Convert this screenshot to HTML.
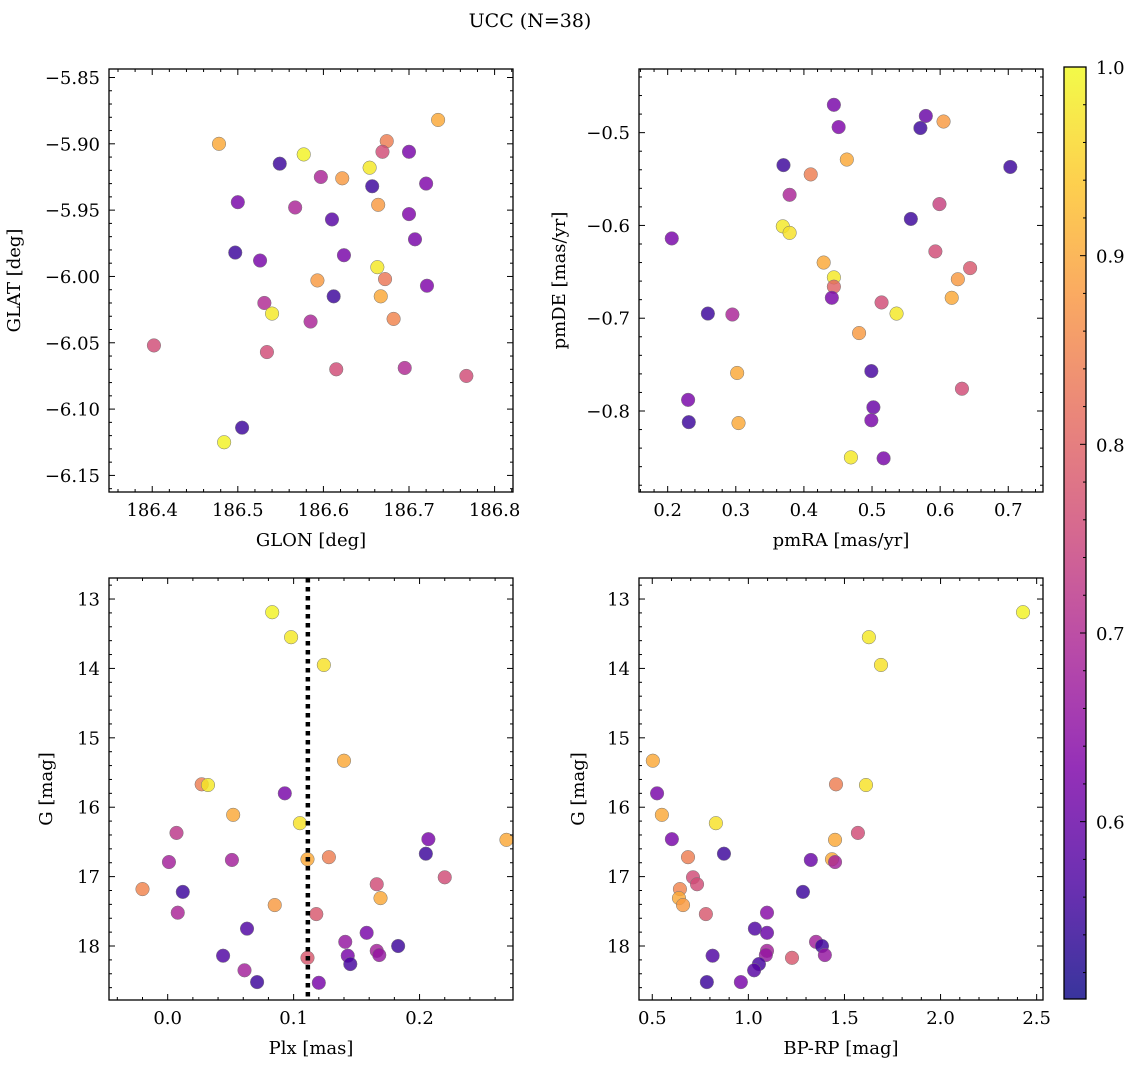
<!DOCTYPE html>
<html><head><meta charset="utf-8"><style>
body{margin:0;background:#fff;}
svg text{font-family:"DejaVu Serif","Liberation Serif",serif;fill:#000;}
</style></head><body>
<svg id="fig" xmlns="http://www.w3.org/2000/svg" width="1136" height="1067" viewBox="0 0 1136 1067">
<defs>
<linearGradient id="cbg" x1="0" y1="1" x2="0" y2="0"></linearGradient>
</defs>
<text x="530" y="27" font-size="19" text-anchor="middle">UCC (N=38)</text>
</svg>
<script>
// ---- data ----
const glon=[186.478,186.734,186.674,186.549,186.577,186.669,186.700,186.654,186.597,186.622,186.657,186.720,186.500,186.567,186.664,186.700,186.610,186.707,186.497,186.624,186.526,186.663,186.593,186.672,186.721,186.612,186.667,186.531,186.540,186.682,186.585,186.402,186.534,186.615,186.695,186.767,186.505,186.484];
const glat=[-5.900,-5.882,-5.898,-5.915,-5.908,-5.906,-5.906,-5.918,-5.925,-5.926,-5.932,-5.930,-5.944,-5.948,-5.946,-5.953,-5.957,-5.972,-5.982,-5.984,-5.988,-5.993,-6.003,-6.002,-6.007,-6.015,-6.015,-6.020,-6.028,-6.032,-6.034,-6.052,-6.057,-6.070,-6.069,-6.075,-6.114,-6.125];
const probA=[0.9,0.9,0.84,0.55,0.99,0.76,0.62,0.98,0.69,0.88,0.55,0.63,0.62,0.69,0.88,0.63,0.58,0.62,0.55,0.62,0.62,0.98,0.88,0.83,0.63,0.55,0.9,0.7,0.98,0.85,0.69,0.76,0.76,0.76,0.7,0.76,0.55,0.99];
const pmra=[0.444,0.451,0.579,0.571,0.605,0.370,0.410,0.463,0.703,0.379,0.599,0.557,0.206,0.369,0.379,0.593,0.429,0.644,0.444,0.626,0.444,0.441,0.617,0.514,0.259,0.295,0.536,0.481,0.302,0.499,0.230,0.632,0.502,0.499,0.231,0.304,0.469,0.517];
const pmde=[-0.470,-0.494,-0.482,-0.495,-0.488,-0.535,-0.545,-0.529,-0.537,-0.567,-0.577,-0.593,-0.614,-0.601,-0.608,-0.628,-0.640,-0.646,-0.656,-0.658,-0.666,-0.678,-0.678,-0.683,-0.695,-0.696,-0.695,-0.716,-0.759,-0.757,-0.788,-0.776,-0.796,-0.810,-0.812,-0.813,-0.850,-0.851];
const probB=[0.62,0.63,0.6,0.55,0.88,0.55,0.84,0.9,0.55,0.69,0.74,0.55,0.62,0.98,0.97,0.76,0.9,0.78,0.98,0.88,0.8,0.62,0.9,0.76,0.55,0.69,0.98,0.88,0.9,0.56,0.62,0.76,0.6,0.62,0.55,0.9,0.98,0.62];
const plx=[0.083,0.098,0.124,0.140,0.027,0.032,0.093,0.052,0.105,0.007,0.207,0.269,0.205,0.051,0.111,0.128,0.001,0.220,0.166,-0.020,0.012,0.169,0.085,0.008,0.118,0.063,0.158,0.141,0.183,0.044,0.143,0.166,0.168,0.111,0.145,0.061,0.071,0.120];
const gmagC=[13.19,13.55,13.95,15.33,15.67,15.68,15.80,16.11,16.23,16.37,16.46,16.47,16.67,16.76,16.75,16.72,16.79,17.01,17.11,17.18,17.22,17.31,17.41,17.52,17.54,17.75,17.81,17.94,18.00,18.14,18.14,18.07,18.13,18.17,18.26,18.35,18.52,18.53];
const probC=[0.99,0.98,0.97,0.9,0.84,0.98,0.62,0.9,0.97,0.72,0.62,0.9,0.55,0.68,0.9,0.84,0.68,0.76,0.76,0.85,0.55,0.9,0.88,0.69,0.78,0.57,0.62,0.66,0.55,0.57,0.62,0.68,0.66,0.78,0.56,0.68,0.55,0.62];
const plxCut=[0.1113];
const bprp=[2.429,1.627,1.690,0.503,0.525,0.550,1.612,1.456,0.831,1.570,0.602,1.451,0.873,0.686,1.325,1.435,1.451,0.712,0.733,0.644,0.639,0.660,1.284,0.779,1.097,1.034,1.097,1.352,1.383,1.097,1.091,0.814,1.227,1.398,1.055,1.030,0.784,0.961];
const gmagD=[13.19,13.55,13.95,15.33,15.80,16.11,15.68,15.67,16.23,16.37,16.46,16.47,16.67,16.72,16.76,16.75,16.79,17.01,17.11,17.18,17.31,17.41,17.22,17.54,17.52,17.75,17.81,17.94,18.00,18.07,18.13,18.14,18.17,18.13,18.26,18.35,18.52,18.52];
const probD=[0.99,0.98,0.97,0.9,0.62,0.9,0.97,0.84,0.97,0.76,0.62,0.9,0.55,0.84,0.6,0.9,0.68,0.76,0.76,0.85,0.9,0.88,0.55,0.78,0.64,0.57,0.6,0.68,0.55,0.68,0.66,0.57,0.78,0.66,0.56,0.58,0.55,0.62];
const cbTicks=[0.6,0.7,0.8,0.9,1.0];

// ---- helpers ----
const NS="http://www.w3.org/2000/svg";
const svg=document.getElementById('fig');
function mk(tag,attrs,parent){const e=document.createElementNS(NS,tag);for(const k in attrs)e.setAttribute(k,attrs[k]);(parent||svg).appendChild(e);return e;}
const VMIN=0.506,VMAX=1.0;
const stops=[[13,8,135],[76,2,161],[126,3,168],[169,35,149],[204,71,120],[229,107,93],[248,149,64],[253,197,39],[240,249,33]];
function plasma(t){t=Math.max(0,Math.min(1,t));const s=t*8,i=Math.min(7,Math.floor(s)),f=s-i;const a=stops[i],b=stops[i+1];return 'rgb('+[0,1,2].map(k=>Math.round(a[k]+(b[k]-a[k])*f)).join(',')+')';}
function cmap(v){return plasma((v-VMIN)/(VMAX-VMIN));}
function fmt(v,d){let s=v.toFixed(d);if(s.startsWith('-'))s='\u2212'+s.slice(1);return s;}

function panel(o){
  const g=mk('g',{});
  
  
  const sx=v=>o.x0+(v-o.xmin)/(o.xmax-o.xmin)*(o.x1-o.x0);
  const sy=o.yinv?(v=>o.y0+(v-o.ymin)/(o.ymax-o.ymin)*(o.y1-o.y0)):(v=>o.y1-(v-o.ymin)/(o.ymax-o.ymin)*(o.y1-o.y0));
  for(let i=0;i<o.xs.length;i++){
    const c=mk('circle',{cx:sx(o.xs[i]),cy:sy(o.ys[i]),r:6.8,fill:cmap(o.cs[i]),'fill-opacity':0.82,stroke:'#777','stroke-width':0.5},g);
    
    
  }
  if(o.vline){for(const v of o.vline){
    const l=mk('line',{x1:sx(v),x2:sx(v),y1:o.y0,y2:o.y1,stroke:'#000','stroke-width':4.5,'stroke-dasharray':'4.5,4.5'},g);
    
    
  }}
  const xa=mk('g',{},g);
  
  
  const nmx=Math.ceil(o.xmin/o.xminor-1e-9),nMx=Math.floor(o.xmax/o.xminor+1e-9);
  for(let k=nmx;k<=nMx;k++){const v=k*o.xminor;const major=Math.abs(v/o.xmajor-Math.round(v/o.xmajor))<1e-6;const L=major?6:3;const X=sx(v);
    mk('line',{x1:X,x2:X,y1:o.y1,y2:o.y1-L,stroke:'#000','stroke-width':1},xa);
    mk('line',{x1:X,x2:X,y1:o.y0,y2:o.y0+L,stroke:'#000','stroke-width':1},xa);
    if(major){const t=mk('text',{x:X,y:o.y1+24,'font-size':18,'text-anchor':'middle'},xa);t.textContent=fmt(v,o.xdec);}}
  const nmy=Math.ceil(o.ymin/o.yminor-1e-9),nMy=Math.floor(o.ymax/o.yminor+1e-9);
  const ya=mk('g',{},g);
  
  
  for(let k=nmy;k<=nMy;k++){const v=k*o.yminor;const major=Math.abs(v/o.ymajor-Math.round(v/o.ymajor))<1e-6;const L=major?6:3;const Y=sy(v);
    mk('line',{x1:o.x0,x2:o.x0+L,y1:Y,y2:Y,stroke:'#000','stroke-width':1},ya);
    mk('line',{x1:o.x1,x2:o.x1-L,y1:Y,y2:Y,stroke:'#000','stroke-width':1},ya);
    if(major){const t=mk('text',{x:o.x0-9,y:Y+6.5,'font-size':18,'text-anchor':'end'},ya);t.textContent=fmt(v,o.ydec);}}
  const fr=mk('rect',{x:o.x0,y:o.y0,width:o.x1-o.x0,height:o.y1-o.y0,fill:'none',stroke:'#000','stroke-width':1.3},g);
  
  
  const xl=mk('text',{x:(o.x0+o.x1)/2,y:o.y1+54,'font-size':18,'text-anchor':'middle'},g);xl.textContent=o.xlabel;
  
  
  const cy=(o.y0+o.y1)/2;
  const yl=mk('text',{x:o.ylx,y:cy,'font-size':18,'text-anchor':'middle',transform:'rotate(-90 '+o.ylx+' '+cy+')'},g);yl.textContent=o.ylabel;
  
  
}

panel({name:'glon-glat-panel',xs:glon,ys:glat,cs:probA,x0:109,x1:513,y0:69,y1:492,xmin:186.3495,xmax:186.8215,ymin:-6.1625,ymax:-5.8436,xmajor:0.1,xminor:0.02,ymajor:0.05,yminor:0.01,xdec:1,ydec:2,xlabel:'GLON [deg]',ylabel:'GLAT [deg]',ylx:20});
panel({name:'pmra-pmde-panel',xs:pmra,ys:pmde,cs:probB,x0:639,x1:1043,y0:69,y1:492,xmin:0.1579,xmax:0.751,ymin:-0.8873,ymax:-0.4314,xmajor:0.1,xminor:0.02,ymajor:0.1,yminor:0.02,xdec:1,ydec:1,xlabel:'pmRA [mas/yr]',ylabel:'pmDE [mas/yr]',ylx:565});
panel({name:'plx-g-panel',xs:plx,ys:gmagC,cs:probC,vline:plxCut,yinv:true,x0:109,x1:513,y0:578,y1:1000,xmin:-0.0466,xmax:0.2742,ymin:12.697,ymax:18.778,xmajor:0.1,xminor:0.02,ymajor:1,yminor:0.2,xdec:1,ydec:0,xlabel:'Plx [mas]',ylabel:'G [mag]',ylx:52});
panel({name:'bprp-g-panel',xs:bprp,ys:gmagD,cs:probD,yinv:true,x0:639,x1:1043,y0:578,y1:1000,xmin:0.431,xmax:2.533,ymin:12.697,ymax:18.778,xmajor:0.5,xminor:0.1,ymajor:1,yminor:0.2,xdec:1,ydec:0,xlabel:'BP-RP [mag]',ylabel:'G [mag]',ylx:584});

// colorbar
const grad=document.getElementById('cbg');
for(let i=0;i<=16;i++){mk('stop',{offset:i/16,'stop-color':plasma(i/16),'stop-opacity':0.82},grad);}
const cb=mk('g',{});


const cx0=1064,cx1=1086,cy0=67,cy1=999;
mk('rect',{x:cx0,y:cy0,width:cx1-cx0,height:cy1-cy0,fill:'url(#cbg)',stroke:'#000','stroke-width':1.3},cb);
const cby=v=>cy1-(v-VMIN)/(VMAX-VMIN)*(cy1-cy0);
for(let k=Math.ceil(VMIN/0.02);k<=Math.floor(VMAX/0.02+1e-9);k++){const v=k*0.02;const Y=cby(v);const major=Math.abs(v*10-Math.round(v*10))<1e-6;
  mk('line',{x1:cx1,x2:cx1-(major?6:3),y1:Y,y2:Y,stroke:'#000','stroke-width':1},cb);}
for(const v of cbTicks){const t=mk('text',{x:cx1+10,y:cby(v)+7,'font-size':18},cb);t.textContent=v.toFixed(1);}
</script>
</body></html>
